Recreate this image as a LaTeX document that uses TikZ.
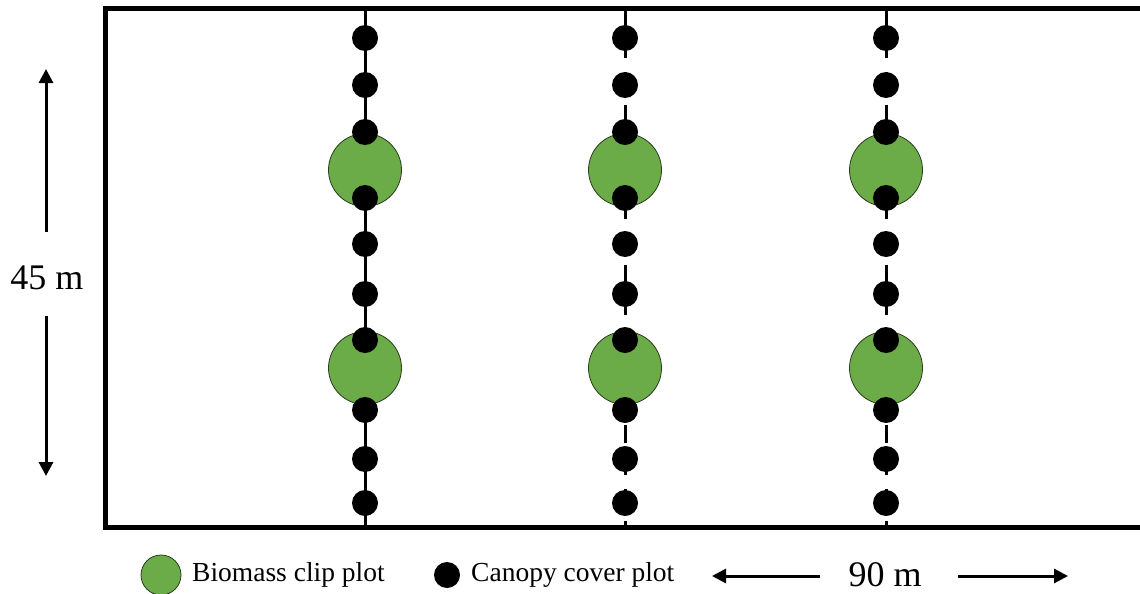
\documentclass[tikz,border=0pt]{standalone}
\usepackage{fontspec}
\setmainfont{Liberation Serif}
\usetikzlibrary{arrows.meta}
\definecolor{clipgreen}{RGB}{108,172,72}
\definecolor{clipedge}{RGB}{40,60,30}
\begin{document}
\begin{tikzpicture}[x=1pt,y=-1pt,
  frame/.style={line width=5pt},
  transect/.style={line width=3pt},
  dashedtransect/.style={line width=3pt, dash pattern=on 18pt off 14pt},
  cover/.style={circle, fill=black, inner sep=0pt, minimum size=26pt},
  clipplot/.style={circle, fill=clipgreen, draw=clipedge, line width=0.8pt, inner sep=0pt, minimum size=73pt},
  dimarrow/.style={line width=3pt, -{Triangle[length=14pt,width=14pt]}},
  dimlabel/.style={font=\fontsize{36}{38}\selectfont, inner sep=0pt},
  legendtext/.style={font=\fontsize{27.5}{30}\selectfont, anchor=west, inner sep=0pt}]
\useasboundingbox (0,0) rectangle (1140,594);
\clip (0,0) rectangle (1140,594);

% field boundary
\draw[frame] (105.5,8.5) rectangle (1160,527.5);

% transect end points
\foreach \c/\x in {1/365,2/625,3/886}{
  \coordinate (t\c) at (\x,8.5);
  \coordinate (b\c) at (\x,527.5);
}
\draw[transect] (t1) -- (b1);
\draw[dashedtransect] (t2) -- (b2);
\draw[dashedtransect] (t3) -- (b3);

% biomass clip plots
\foreach \c/\x in {1/365,2/625,3/886}{
  \node[clipplot] (g\c a) at (\x,170) {};
  \node[clipplot] (g\c b) at (\x,368) {};
}

% canopy cover plots
\foreach \c/\x in {1/365,2/625,3/886}{
  \foreach \r/\y in {1/38,2/85,3/132,4/198,5/244,6/294,7/340,8/410,9/459,10/503}{
    \node[cover] (d\c-\r) at (\x,\y) {};
  }
}

% 45 m dimension
\node[dimlabel] (h) at (47,278) {45 m};
\coordinate (htop) at (46,69);
\coordinate (hbot) at (46,476);
\draw[dimarrow] (46,232) -- (htop);
\draw[dimarrow] (46,316) -- (hbot);

% legend
\node[clipplot, minimum size=40pt] (lg) at (161,575) {};
\node[legendtext] (lgt) at (192,575) {Biomass clip plot};
\node[cover] (ld) at (447,575) {};
\node[legendtext] (ldt) at (471,575) {Canopy cover plot};

% 90 m dimension
\node[dimlabel] (w) at (885,575) {90 m};
\coordinate (wl) at (712,576);
\coordinate (wr) at (1068,576);
\draw[dimarrow] (820,576) -- (wl);
\draw[dimarrow] (958,576) -- (wr);
\end{tikzpicture}
\end{document}
